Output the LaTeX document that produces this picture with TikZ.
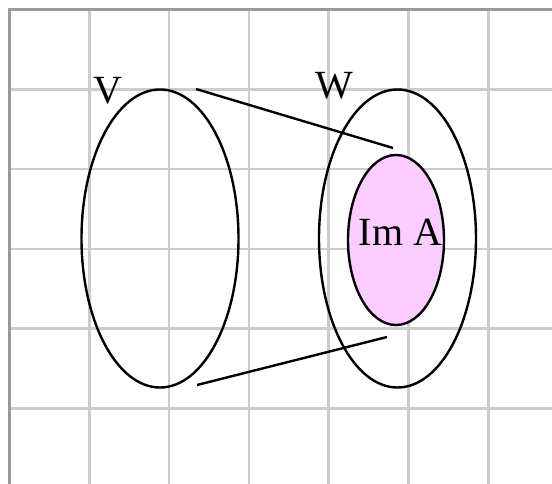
\documentclass[tikz,border=0pt]{standalone}
\usepackage{fontspec}
\setmainfont{Liberation Serif}
\usetikzlibrary{shapes.geometric}
\definecolor{gridgray}{HTML}{CCCCCC}
\definecolor{bordergray}{HTML}{999999}
\definecolor{impink}{HTML}{FACCFF}
\tikzset{
  gridline/.style={draw=gridgray, line width=2.6pt},
  borderline/.style={draw=bordergray, line width=2.8pt},
  setshape/.style={ellipse, draw=black, line width=2.4pt, inner sep=0pt, outer sep=0pt},
  mapline/.style={draw=black, line width=2.4pt},
  lbl/.style={font=\fontsize{40}{48}\selectfont, inner sep=0pt, anchor=base}
}
\begin{document}
\begin{tikzpicture}[x=1pt, y=-1pt]
\useasboundingbox (0,0) rectangle (552,484);
\fill[white] (0,0) rectangle (552,484);
% grid
\foreach \k in {1,...,6} {
  \draw[gridline] ({9.5+79.8*\k},9.5) -- ({9.5+79.8*\k},484);
}
\foreach \k in {1,...,5} {
  \draw[gridline] (9.5,{9.5+79.8*\k}) -- (552,{9.5+79.8*\k});
}
\draw[borderline] (9.5,484) -- (9.5,9.5) -- (552,9.5);
% sets
\node[setshape, minimum width=157pt, minimum height=298pt] (V) at (160,238.5) {};
\node[setshape, minimum width=157pt, minimum height=298pt] (W) at (397.5,238.5) {};
\node[setshape, fill=impink, minimum width=96pt, minimum height=170pt] (Im) at (396,240) {};
% labels
\node[lbl] (Vl) at (108,104) {V};
\node[lbl] (Wl) at (334.5,99) {W};
\node[lbl] (Iml) at (400.5,245) {Im A};
% mapping lines
\coordinate (a1) at (196,89);
\coordinate (a2) at (393,148);
\coordinate (b1) at (197,385);
\coordinate (b2) at (387,337);
\draw[mapline] (a1) -- (a2);
\draw[mapline] (b1) -- (b2);
\end{tikzpicture}
\end{document}
